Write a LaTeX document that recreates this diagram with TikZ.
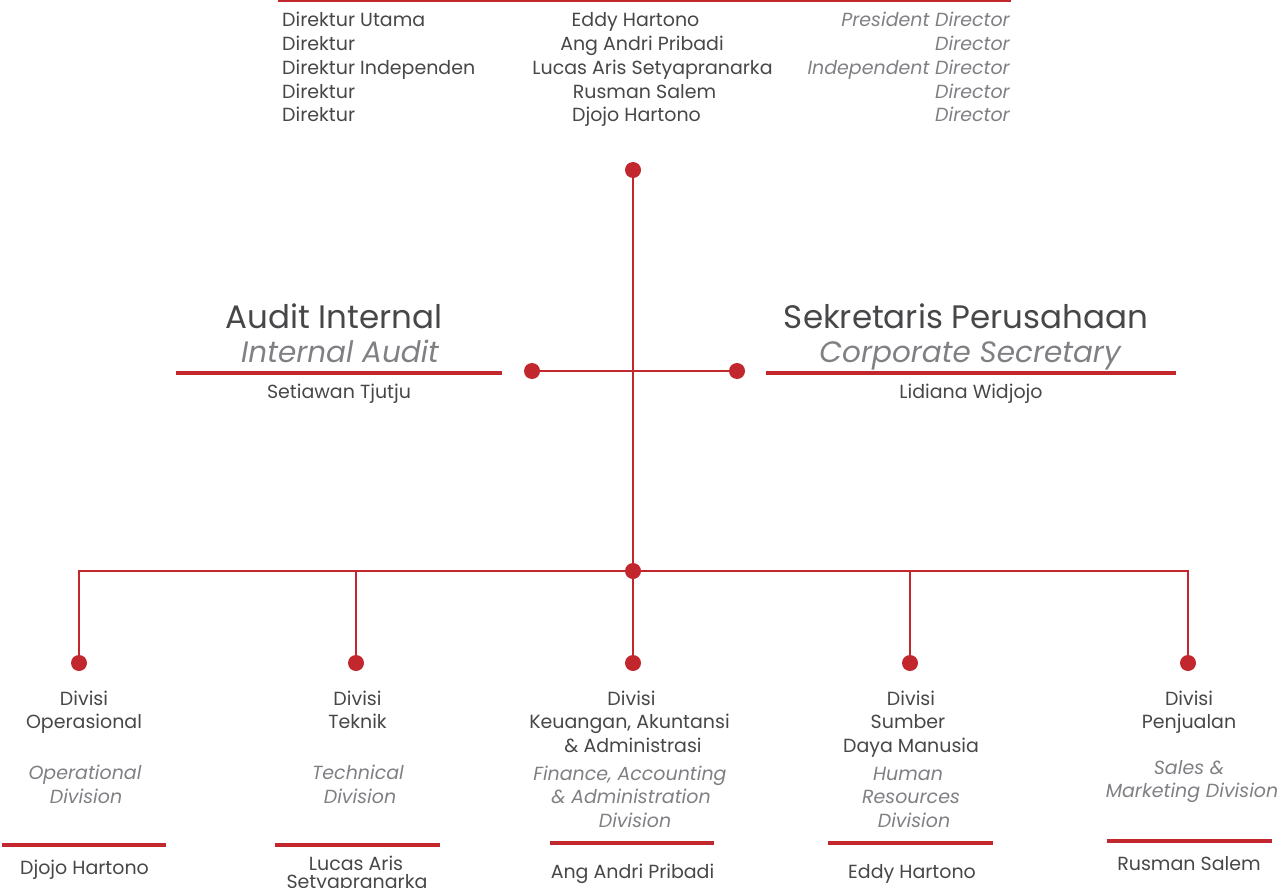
\documentclass[tikz,border=0pt]{standalone}
\usepackage{fontspec}
\setmainfont{Poppins}
\usetikzlibrary{backgrounds}
\definecolor{redc}{HTML}{C1272D}
\definecolor{dk}{HTML}{47474A}
\definecolor{gr}{HTML}{7F8084}
\tikzset{
  t/.style={text=dk, font=\fontsize{19}{22}\selectfont, inner sep=0pt, anchor=base, yshift=-1pt},
  tl/.style={t, anchor=base west},
  ti/.style={text=gr, font=\fontsize{19}{22}\selectfont\itshape, inner sep=0pt, anchor=base, yshift=-1pt},
  tir/.style={ti, anchor=base east},
  head/.style={text=dk, font=\fontsize{32.5}{36}\selectfont, inner sep=0pt, anchor=base},
  headi/.style={text=gr, font=\fontsize{29.5}{36}\selectfont\itshape, inner sep=0pt, anchor=base},
  dot/.style={circle, fill=redc, minimum size=16pt, inner sep=0pt},
  link/.style={draw=redc, line width=2.5pt},
  rulebar/.style={draw=redc, line width=4pt},
}
\begin{document}
\begin{tikzpicture}[x=1pt, y=-1pt]
\useasboundingbox (0,0) rectangle (1284,888);
% top rule
\draw[redc, line width=3pt] (278,0.5) -- (1011,0.5);
% board table
\node[tl] (r1a) at (282,25.5) {Direktur Utama};
\node[tl] (r2a) at (282,49.5) {Direktur};
\node[tl] (r3a) at (282,73.5) {Direktur Independen};
\node[tl] (r4a) at (282,97.5) {Direktur};
\node[tl] (r5a) at (282,120.5) {Direktur};
\node[t] (r1b) at (635.5,25.5) {Eddy Hartono};
\node[t] (r2b) at (642,49.5) {Ang Andri Pribadi};
\node[t] (r3b) at (652.5,73.5) {Lucas Aris Setyapranarka};
\node[t] (r4b) at (644.5,97.5) {Rusman Salem};
\node[t] (r5b) at (636.5,120.5) {Djojo Hartono};
\node[tir] (r1c) at (1010,25.5) {President Director};
\node[tir] (r2c) at (1010,49.5) {Director};
\node[tir] (r3c) at (1010,73.5) {Independent Director};
\node[tir] (r4c) at (1010,97.5) {Director};
\node[tir] (r5c) at (1010,120.5) {Director};
% dots
\node[dot] (top) at (633,170) {};
\node[dot] (left) at (532,371) {};
\node[dot] (right) at (737,371) {};
\node[dot] (hub) at (633,571) {};
\node[dot] (d1) at (79,663) {};
\node[dot] (d2) at (356,663) {};
\node[dot] (d3) at (633,663) {};
\node[dot] (d4) at (910,663) {};
\node[dot] (d5) at (1188,663) {};
\begin{scope}[on background layer]
\draw[link] (top.center) -- (hub.center);
\draw[link] (left.center) -- (right.center);
\draw[link] (d1.center) |- (hub.center) -| (d5.center);
\draw[link] (d2.center) -- (d2.center |- hub.center);
\draw[link] (d3.center) -- (hub.center);
\draw[link] (d4.center) -- (d4.center |- hub.center);
\end{scope}
% audit internal
\node[head] (ai) at (334,328) {Audit Internal};
\node[headi] (ia) at (340,362) {Internal Audit};
\draw[rulebar] (176,373) -- (502,373);
\node[t] (ain) at (339,397.5) {Setiawan Tjutju};
% corporate secretary
\node[head] (sp) at (966,328) {Sekretaris Perusahaan};
\node[headi] (cs) at (970,362) {Corporate Secretary};
\draw[rulebar] (766,373) -- (1176,373);
\node[t] (csn) at (971,397.5) {Lidiana Widjojo};
% col 1
\node[t] (c1a) at (84,704) {Divisi};
\node[t] (c1b) at (84,727) {Operasional};
\node[ti] (c1c) at (85,778) {Operational};
\node[ti] (c1d) at (86,802) {Division};
\draw[rulebar] (2,844.5) -- (166,844.5);
\node[t] (c1n) at (84.5,873) {Djojo Hartono};
% col 2
\node[t] (c2a) at (357.5,704) {Divisi};
\node[t] (c2b) at (357.5,727) {Teknik};
\node[ti] (c2c) at (358,778) {Technical};
\node[ti] (c2d) at (360,802) {Division};
\draw[rulebar] (275,844.5) -- (440,844.5);
\node[t] (c2n) at (356,869) {Lucas Aris};
\node[t] (c2m) at (357,887) {Setyapranarka};
% col 3
\node[t] (c3a) at (631.5,704) {Divisi};
\node[t] (c3b) at (629.5,727) {Keuangan, Akuntansi};
\node[t] (c3c) at (633,751) {\& Administrasi};
\node[ti] (c3d) at (630,779) {Finance, Accounting};
\node[ti] (c3e) at (631,802) {\& Administration};
\node[ti] (c3f) at (635,826) {Division};
\draw[rulebar] (550,843) -- (714,843);
\node[t] (c3n) at (632.5,877) {Ang Andri Pribadi};
% col 4
\node[t] (c4a) at (911,704) {Divisi};
\node[t] (c4b) at (908,727) {Sumber};
\node[t] (c4c) at (911,751) {Daya Manusia};
\node[ti] (c4d) at (908,779) {Human};
\node[ti] (c4e) at (911,802) {Resources};
\node[ti] (c4f) at (914,826) {Division};
\draw[rulebar] (828,843) -- (993,843);
\node[t] (c4n) at (912,877) {Eddy Hartono};
% col 5
\node[t] (c5a) at (1189,704) {Divisi};
\node[t] (c5b) at (1189,727) {Penjualan};
\node[ti] (c5c) at (1189,773) {Sales \&};
\node[ti] (c5d) at (1192,796) {Marketing Division};
\draw[rulebar] (1107,841) -- (1272,841);
\node[t] (c5n) at (1189,869) {Rusman Salem};
\end{tikzpicture}
\end{document}
